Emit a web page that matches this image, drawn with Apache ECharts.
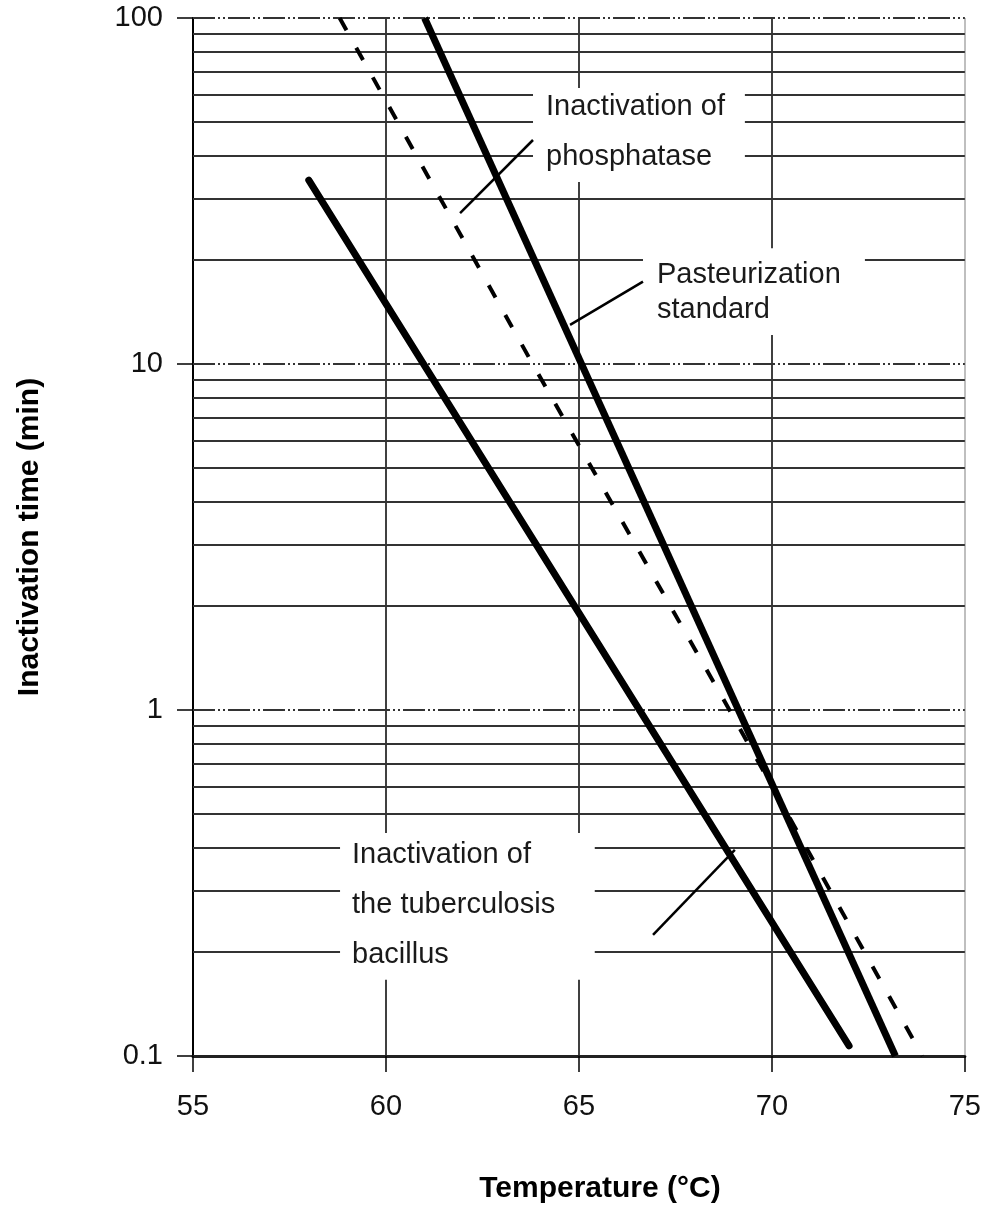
<!DOCTYPE html>
<html>
<head>
<meta charset="utf-8">
<script src="https://cdn.jsdelivr.net/npm/echarts@6/dist/echarts.min.js"></script>
<style>
  html, body { margin: 0; padding: 0; background: #fff; }
  #chart { width: 984px; height: 1209px; }
</style>
</head>
<body>
<div id="chart"></div>
<script>
// curves: [temperature °C, inactivation time min]
const tuberculosis = [[58, 34], [72, 0.107]]
const pasteurization = [[61, 100], [73.2, 0.1]]
const phosphatase = [[58.8, 100], [63.8, 10], [68.9, 1], [73.9, 0.1]]

// horizontal grid values (log paper)
const decadeLines = [1, 10, 100]
const minorLines = [0.2, 0.3, 0.4, 0.5, 0.6, 0.7, 0.8, 0.9,
  2, 3, 4, 5, 6, 7, 8, 9,
  20, 30, 40, 50, 60, 70, 80, 90]

const noteTexts = [
  'Inactivation of\nphosphatase',
  'Pasteurization\nstandard',
  'Inactivation of\nthe tuberculosis\nbacillus'
]

// label boxes in data space [t0, v0, t1, v1] and text layout
const noteBoxes = [[63.81, 62.8, 69.3, 33.6], [66.66, 21.6, 72.41, 12.13], [58.81, 0.441, 65.41, 0.166]]
const noteLayout = [
  { padLeft: 13, lineHeight: 50, dy: -3 },
  { padLeft: 14, lineHeight: 35, dy: 1 },
  { padLeft: 12, lineHeight: 50, dy: -1 }
]

// leader lines from curve to label
const leaders = [
  [[61.92, 27.3], [63.81, 44.4]],
  [[64.77, 12.97], [66.66, 17.3]],
  [[66.92, 0.224], [69.04, 0.394]]
]

const chart = echarts.init(document.getElementById('chart'))

const font = '"Liberation Sans", Arial, sans-serif'

let series = [
  {
    name: 'grid',
    type: 'line',
    data: [],
    silent: true,
    markLine: {
      silent: true,
      symbol: 'none',
      z: 1,
      animation: false,
      label: { show: false },
      data: minorLines.map(v => ({
        yAxis: v,
        lineStyle: { color: '#333', width: 2, type: 'solid' }
      })).concat(decadeLines.map(v => ({
        yAxis: v,
        lineStyle: { color: '#333', width: 2, type: [22, 3, 2, 3, 2, 3] }
      })))
    }
  },
  {
    name: 'notes',
    type: 'custom',
    z: 3,
    silent: true,
    encode: { x: [0, 2], y: [1, 3] },
    data: noteBoxes,
    renderItem: function (params, api) {
      const p0 = api.coord([api.value(0), api.value(1)])
      const p1 = api.coord([api.value(2), api.value(3)])
      const lay = noteLayout[params.dataIndex]
      return {
        type: 'group',
        children: [
          {
            type: 'rect',
            shape: { x: p0[0], y: p0[1], width: p1[0] - p0[0], height: p1[1] - p0[1] },
            style: { fill: '#fff' }
          },
          {
            type: 'text',
            style: {
              text: noteTexts[params.dataIndex],
              x: p0[0] + lay.padLeft,
              y: (p0[1] + p1[1]) / 2 + lay.dy,
              align: 'left',
              verticalAlign: 'middle',
              lineHeight: lay.lineHeight,
              font: '29px ' + font,
              fill: '#1a1a1a'
            }
          }
        ]
      }
    }
  },
  {
    name: 'Inactivation of the tuberculosis bacillus',
    type: 'line',
    z: 4,
    symbol: 'none',
    data: tuberculosis,
    lineStyle: { color: '#000', width: 7, cap: 'round' }
  },
  {
    name: 'Pasteurization standard',
    type: 'line',
    z: 4,
    symbol: 'none',
    data: pasteurization,
    lineStyle: { color: '#000', width: 7, cap: 'butt' }
  },
  {
    name: 'Inactivation of phosphatase',
    type: 'line',
    z: 4,
    symbol: 'none',
    data: phosphatase,
    lineStyle: { color: '#000', width: 4, type: [14, 20] }
  }
]

for (let i = 0; i < leaders.length; i++) {
  series.push({
    name: 'leader' + i,
    type: 'line',
    z: 4,
    symbol: 'none',
    silent: true,
    data: leaders[i],
    lineStyle: { color: '#000', width: 2.5 }
  })
}

let option = {
  animation: false,
  backgroundColor: '#fff',
  grid: { left: 193, right: 19, top: 18, bottom: 153 },
  xAxis: {
    type: 'value',
    min: 55,
    max: 75,
    interval: 5,
    name: 'Temperature (°C)',
    nameLocation: 'middle',
    nameGap: 118,
    nameTextStyle: { fontFamily: font, fontSize: 30, fontWeight: 'bold', color: '#000', padding: [0, 0, 0, 42] },
    axisLine: { show: true, lineStyle: { color: '#222', width: 3 } },
    axisTick: { show: true, inside: false, length: 16, lineStyle: { color: '#000', width: 1.5 } },
    axisLabel: { fontFamily: font, fontSize: 29, color: '#111', margin: 36 },
    splitLine: { show: true, lineStyle: { color: ['#000', '#000', '#000', '#000', '#aaa'], width: 1.5 } }
  },
  yAxis: {
    type: 'log',
    logBase: 10,
    min: 0.1,
    max: 100,
    name: 'Inactivation time (min)',
    nameLocation: 'middle',
    nameGap: 148,
    nameTextStyle: { fontFamily: font, fontSize: 30, fontWeight: 'bold', color: '#000' },
    axisLine: { show: true, lineStyle: { color: '#000', width: 2 } },
    axisTick: { show: true, inside: false, length: 16, lineStyle: { color: '#000', width: 1.5 } },
    axisLabel: {
      fontFamily: font,
      fontSize: 29,
      color: '#111',
      margin: 30,
      formatter: v => String(Number(v.toPrecision(3)))
    },
    splitLine: { show: false },
    minorTick: { show: false }
  },
  series: series
}

chart.setOption(option)
</script>
</body>
</html>
